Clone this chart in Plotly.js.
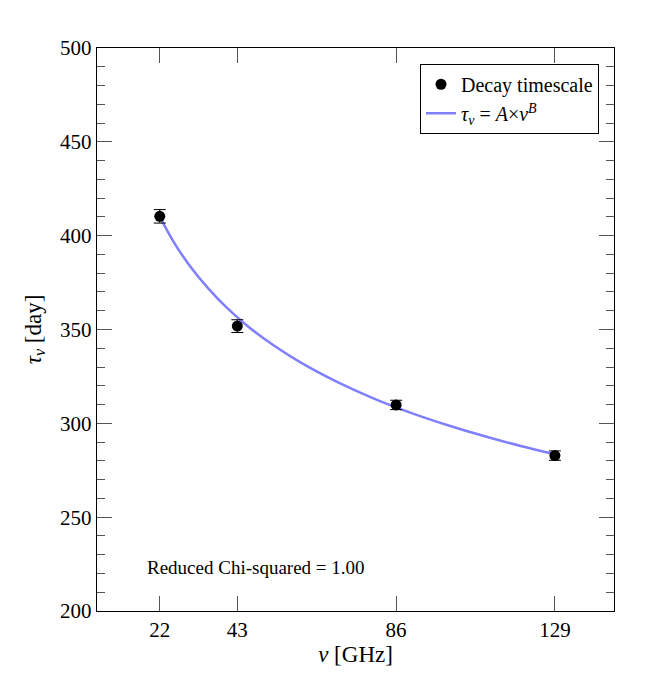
<!DOCTYPE html>
<html>
<head>
<meta charset="utf-8">
<script src="https://cdn.plot.ly/plotly-3.0.1.min.js"></script>
<style>
  html, body { margin: 0; padding: 0; background: #fff; }
  #plot { width: 659px; height: 677px; }
</style>
</head>
<body>
<div id="plot"></div>
<script>
// measured decay timescales
var freqs = [22, 43, 86, 129];
var tau = [410.3, 351.8, 309.8, 282.8];
var tauErr = [3.6, 3.4, 2.5, 2.5];

// fitted curve
var fitFreqs = [22, 26, 30, 35, 40, 45, 50, 60, 70, 80, 90, 100, 110, 120, 129];
var fitTau = [410.0, 395.9, 384.3, 372.2, 361.9, 353.1, 345.5, 332.6, 322.1, 313.2, 305.6, 299.0, 293.1, 287.8, 283.5];

var tickVals = [22, 43, 86, 129];
var chiText = 'Reduced Chi-squared = 1.00';

var serif = '"Liberation Serif", "DejaVu Serif", serif';

var fit = {
	x: fitFreqs,
	y: fitTau,
	type: 'scatter',
	mode: 'lines',
	line: {color: '#8080ff', width: 2.5, shape: 'spline'},
	name: '<i>τ<sub>ν</sub></i> = <i>A</i>×<i>ν<sup>B</sup></i>'
};

var points = {
	x: freqs,
	y: tau,
	type: 'scatter',
	mode: 'markers',
	marker: {color: '#000', size: 11},
	error_y: {type: 'data', array: tauErr, visible: true, color: '#000', thickness: 1, width: 6},
	name: 'Decay timescale'
};

var axisBase = {
	showgrid: false,
	zeroline: false,
	showline: true,
	linecolor: '#000',
	linewidth: 1.2,
	mirror: 'ticks',
	ticks: 'inside',
	ticklen: 15,
	tickwidth: 1,
	tickcolor: '#555',
	tickfont: {family: serif, size: 21, color: '#000'}
};

var layout = {
	width: 659,
	height: 677,
	margin: {l: 97, r: 45, t: 48, b: 66, pad: 0},
	paper_bgcolor: '#fff',
	plot_bgcolor: '#fff',
	font: {family: serif, color: '#000'},
	showlegend: true,
	legend: {
		x: 0.971, y: 0.972, xanchor: 'right', yanchor: 'top',
		traceorder: 'reversed',
		bordercolor: '#000', borderwidth: 1, bgcolor: '#fff',
		font: {family: serif, size: 20, color: '#000'},
		tracegroupgap: 0
	},
	xaxis: Object.assign({}, axisBase, {
		range: [5, 145],
		tickmode: 'array',
		tickvals: tickVals,
		ticktext: tickVals.map(String),
		title: {text: '<i>ν</i> [GHz]', font: {family: serif, size: 23, color: '#000'}, standoff: 0}
	}),
	yaxis: Object.assign({}, axisBase, {
		range: [200, 500],
		dtick: 50,
		tick0: 0,
		minor: {dtick: 10, ticks: 'inside', ticklen: 8, tickcolor: '#555', tickwidth: 1},
		title: {text: '<i>τ<sub>ν</sub></i> [day]', font: {family: serif, size: 23, color: '#000'}, standoff: 12}
	}),
	annotations: [{
		x: 18, y: 223, xref: 'x', yref: 'y',
		xanchor: 'left', yanchor: 'middle',
		text: chiText, showarrow: false,
		font: {family: serif, size: 19, color: '#000'}
	}]
};

Plotly.newPlot('plot', [fit, points], layout, {displayModeBar: false, staticPlot: true});
</script>
</body>
</html>
